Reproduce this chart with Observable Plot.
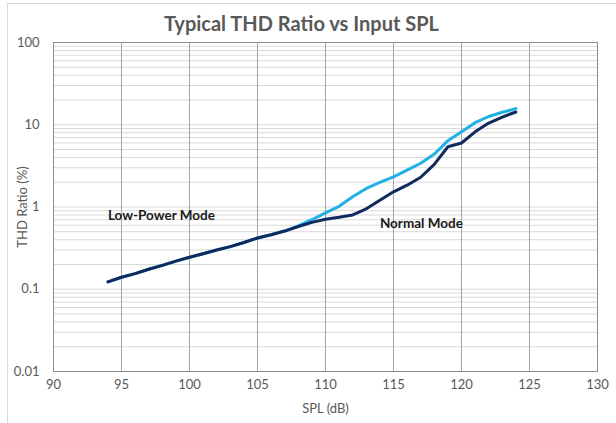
<!DOCTYPE html>
<html>
<head>
<meta charset="utf-8">
<script src="https://cdn.jsdelivr.net/npm/d3@7"></script>
<script src="https://cdn.jsdelivr.net/npm/@observablehq/plot@0.6"></script>
<style>
  html, body { margin: 0; padding: 0; background: #fff; }
  #wrap { position: relative; width: 616px; height: 423px; overflow: hidden; }
  #border { position: absolute; left: 7px; top: 3px; width: 640px; height: 450px;
            border-top: 1px solid #d9d9d9; border-left: 1px solid #d9d9d9; box-sizing: border-box; }
  #chart { position: absolute; left: 0; top: 0; }
</style>
</head>
<body>
<div id="wrap"><div id="border"></div><div id="chart"></div></div>
<script>
const titleText = "Typical THD Ratio vs Input SPL";
const xLabel = "SPL (dB)";
const yLabel = "THD Ratio (%)";

const spl = [94, 95, 96, 97, 98, 99, 100, 101, 102, 103, 104, 105, 106, 107, 108, 109, 110, 111, 112, 113, 114, 115, 116, 117, 118, 119, 120, 121, 122, 123, 124];
// light blue series
const lightThd = [0.123, 0.140, 0.155, 0.175, 0.195, 0.22, 0.245, 0.27, 0.30, 0.33, 0.37, 0.42, 0.46, 0.51, 0.59, 0.70, 0.85, 1.02, 1.33, 1.68, 1.99, 2.33, 2.8, 3.4, 4.4, 6.4, 8.2, 10.6, 12.6, 14.2, 15.7];
// dark navy series
const darkThd = [0.123, 0.140, 0.155, 0.175, 0.195, 0.22, 0.245, 0.27, 0.30, 0.33, 0.37, 0.42, 0.46, 0.51, 0.58, 0.65, 0.71, 0.75, 0.80, 0.95, 1.21, 1.53, 1.84, 2.3, 3.3, 5.4, 6.0, 8.2, 10.5, 12.4, 14.3];

const xTicks = [90, 95, 100, 105, 110, 115, 120, 125, 130];
const yTicks = [0.01, 0.1, 1, 10, 100];
const yTickLabels = ["0.01", "0.1", "1", "10", "100"];
const yGrid = [0.01,0.02,0.03,0.04,0.05,0.06,0.07,0.08,0.09,
               0.1,0.2,0.3,0.4,0.5,0.6,0.7,0.8,0.9,
               1,2,3,4,5,6,7,8,9,
               10,20,30,40,50,60,70,80,90,100];

const annotations = [
  {x: 94, y: 0.79, text: "Low-Power Mode"},
  {x: 114, y: 0.635, text: "Normal Mode"}
];

const lightData = spl.map((s, i) => ({spl: s, thd: lightThd[i]}));
const darkData = spl.map((s, i) => ({spl: s, thd: darkThd[i]}));

const font = "Lato, 'Open Sans', sans-serif";

const chart = Plot.plot({
  width: 616,
  height: 423,
  marginLeft: 53,
  marginRight: 19,
  marginTop: 42,
  marginBottom: 52,
  style: {fontFamily: font, background: "transparent", overflow: "visible"},
  x: {domain: [90, 130], label: null},
  y: {type: "log", domain: [0.01, 100], label: null},
  marks: [
    Plot.gridY(yGrid, {stroke: "#d9d9d9", strokeOpacity: 1, strokeWidth: 1}),
    Plot.gridX(xTicks, {stroke: "#a6a6a6", strokeOpacity: 1, strokeWidth: 1}),
    Plot.frame({stroke: "#8c8c8c", strokeWidth: 1}),
    Plot.axisX(xTicks, {tickSize: 0, tickPadding: 8, fontSize: 13, fill: "#595959", label: null}),
    Plot.axisY(yTicks, {tickSize: 0, tickPadding: 14, fontSize: 13, fill: "#595959", label: null,
      tickFormat: (d) => yTickLabels[yTicks.indexOf(d)]}),
    Plot.line(lightData, {x: "spl", y: "thd", stroke: "#1fb1e6", strokeWidth: 3, strokeLinejoin: "round", strokeLinecap: "round"}),
    Plot.line(darkData, {x: "spl", y: "thd", stroke: "#10295e", strokeWidth: 3, strokeLinejoin: "round", strokeLinecap: "round"}),
    Plot.text(annotations, {x: "x", y: "y", text: "text", textAnchor: "start", fontSize: 13.5, fontWeight: "bold", fill: "#1a1a1a"}),
    Plot.text([titleText], {frameAnchor: "top", lineAnchor: "middle", textAnchor: "middle", dy: -18, dx: -24, fontSize: 20, fontWeight: "bold", fill: "#595959"}),
    Plot.text([xLabel], {frameAnchor: "bottom", lineAnchor: "middle", textAnchor: "middle", dy: 37, fontSize: 13, fill: "#595959"}),
    Plot.text([yLabel], {frameAnchor: "left", lineAnchor: "middle", textAnchor: "middle", dx: -31, rotate: -90, fontSize: 13, fill: "#595959"})
  ]
});
document.getElementById("chart").appendChild(chart);
</script>
</body>
</html>
